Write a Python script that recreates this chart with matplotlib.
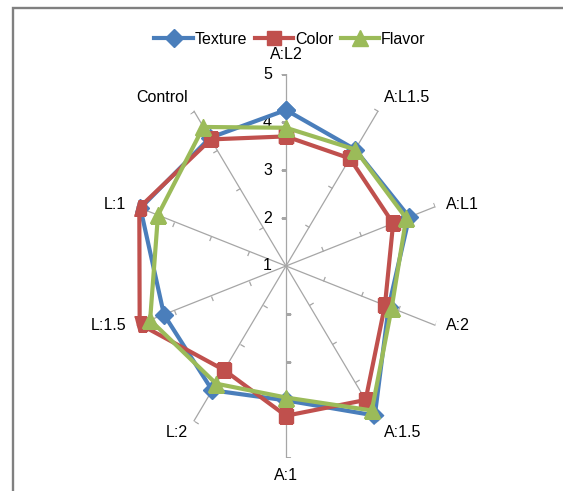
import numpy as np
import matplotlib
matplotlib.use("Agg")
import matplotlib.pyplot as plt
from matplotlib import font_manager
from matplotlib.path import Path
from matplotlib.markers import MarkerStyle
from matplotlib.transforms import Affine2D
from matplotlib.patches import Rectangle

# data
categories = ["A:L2", "A:L1.5", "A:L1", "A:2", "A:1.5", "A:1", "L:2", "L:1.5", "L:1", "Control"]
texture = [4.25, 4.0, 4.3, 3.75, 4.85, 3.8, 4.2, 4.27, 4.9, 4.3]
color = [3.7, 3.77, 3.87, 3.65, 4.45, 4.12, 3.68, 4.92, 4.93, 4.26]
flavor = [3.88, 4.0, 4.22, 3.83, 4.72, 3.74, 4.03, 4.64, 4.43, 4.58]
r_ticks = [1, 2, 3, 4, 5]

installed = {f.name for f in font_manager.fontManager.ttflist}
font = "Liberation Sans Narrow" if "Liberation Sans Narrow" in installed else "Liberation Sans"
plt.rcParams["font.family"] = [font, "DejaVu Sans"]
fs = 11.5
PX = 0.72  # points per pixel at 100 dpi

W, H = 563, 491
fig = plt.figure(figsize=(W / 100, H / 100), dpi=100)

# frame around the chart area (only top and left are visible)
fig.patches.append(Rectangle((13 / W, -0.1), 1.2, (H - 8) / H + 0.1, transform=fig.transFigure,
                             fill=False, edgecolor="#808080", lw=1.7))

cx, cy, rx, ry = 286, 266, 157, 192
ax = fig.add_axes([(cx - rx) / W, (H - cy - ry) / H, 2 * rx / W, 2 * ry / H], projection="polar")
ax.set_aspect("auto")
ax.set_theta_zero_location("N")
ax.set_theta_direction(-1)
ax.set_ylim(1, 5)
ax.grid(False)
ax.spines["polar"].set_visible(False)
ax.set_xticks([])
ax.set_yticks([])
ax.patch.set_alpha(0)

n = len(categories)
theta = np.arange(n) * 2 * np.pi / n

# spokes with one-sided tick marks
tick_path = Path([(0, 0), (-1, 0)])
c0 = ax.transData.transform((0, 1))
for i, t in enumerate(theta):
    ax.plot([t, t], [1, 5], color="#a6a6a6", lw=0.9, zorder=1)
    p = ax.transData.transform((t, 5))
    phi = np.degrees(np.arctan2(p[1] - c0[1], p[0] - c0[0]))
    mk = MarkerStyle(tick_path, transform=Affine2D().rotate_deg(phi - 90))
    ax.plot([t] * 4, r_ticks[1:], ls="none", marker=mk, markersize=7, markeredgecolor="#a6a6a6",
            markerfacecolor="none", markeredgewidth=0.9, zorder=1)
    # category labels
    ca, sa = np.cos(np.radians(phi)), np.sin(np.radians(phi))
    ha = "left" if ca > 0.2 else ("right" if ca < -0.2 else "center")
    dx = 11 * ca
    dy = 19 * sa ** 3 + 1
    ax.annotate(categories[i], (t, 5), xytext=(dx * PX, dy * PX),
                textcoords="offset points", ha=ha, va="center", fontsize=fs, annotation_clip=False)

# value labels along the first spoke
for v in r_ticks:
    ax.annotate(str(v), (0, v), xytext=(-10, 0), textcoords="offset points",
                ha="right", va="center", fontsize=fs, annotation_clip=False)

tc = np.append(theta, theta[0])
series = [("Texture", texture, "#4a7ebb", "D", 9),
          ("Color", color, "#c0504d", "s", 10),
          ("Flavor", flavor, "#9bbb59", "^", 11)]
for name, vals, col, mk, ms in series:
    ax.plot(tc, np.append(vals, vals[0]), color=col, lw=3, marker=mk, markersize=ms,
            markerfacecolor=col, markeredgecolor=col, label=name, zorder=3)

fig.legend(loc="center", bbox_to_anchor=(290 / W, 1 - 39 / H), ncol=3, frameon=False,
           fontsize=fs, handlelength=2.4, handletextpad=0.1, columnspacing=0.5)

fig.savefig("out.png", dpi=100)
